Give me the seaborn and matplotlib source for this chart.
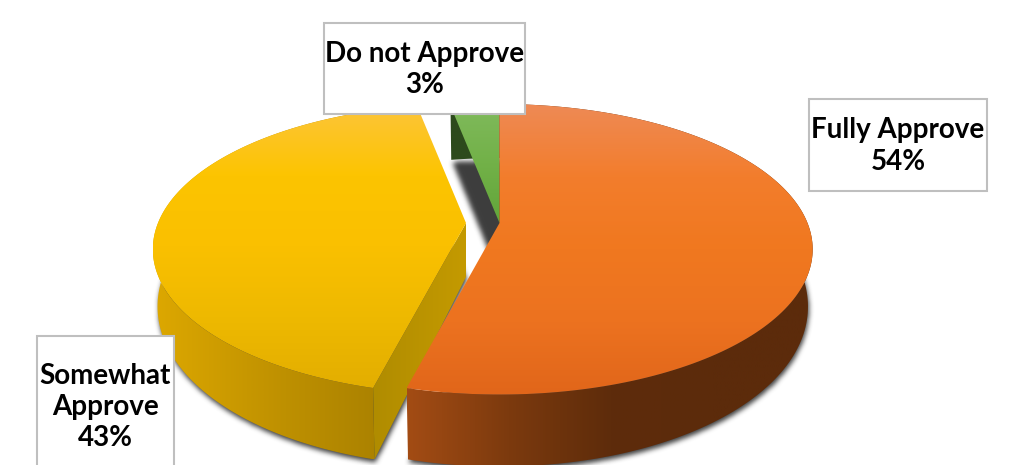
import numpy as np
import matplotlib
matplotlib.use("Agg")
import matplotlib.pyplot as plt
from matplotlib.patches import Polygon, Rectangle
from matplotlib.path import Path
import seaborn as sns

# Survey responses
categories = ["Fully Approve", "Somewhat Approve", "Do not Approve"]
label_lines = ["Fully Approve", "Somewhat\nApprove", "Do not Approve"]
shares = [54, 43, 3]

W, H = 1029, 465

# Perspective model of the pie disc, in pixels
APEX_X, APEX_Y = 499.5, 223.0
AXIS_X, AXIS_Y = 308.0, 140.5
TILT = 0.181
EXPLODE_X = [0.0, -33.5, 0.0]

top_ramps = [
    ["#EE8A55", "#F37D2C", "#F0781F", "#EC7220", "#E1661A"],
    ["#FDC53A", "#FCC400", "#FAC000", "#EEB900", "#E3AE00"],
    ["#80BA5C", "#72B148", "#62A53A"],
]
side_ramps = [
    ["#A34C14", "#7C3A0E", "#5E2C0B", "#5C2B0B", "#5C2B0B"],
    ["#DDA800", "#BE9000", "#A37C00"],
    ["#2D4A1C", "#2D4A1C"],
]
cut_ramps = [None, ["#B08C00", "#C49A00"], ["#2F4E1E", "#2B481B"]]

box_frames = [(809, 99, 178, 92), (37, 336, 137, 140), (324, 23, 201, 91)]
line_gap = [1.28, 1.22, 1.22]


def rim(theta, dx=0.0, lower=False):
    """Project angles (clockwise from the far side) on to the top or bottom rim."""
    theta = np.atleast_1d(theta)
    sx, cy = np.sin(theta), np.cos(theta)
    w = 1 + TILT * cy
    px = AXIS_X * sx / w
    py = AXIS_Y * cy / w
    if lower:
        return np.column_stack([APEX_X + dx + 0.985 * px,
                                APEX_Y - py + 54 - 18 * np.minimum(cy, 0)])
    return np.column_stack([APEX_X + dx + px, APEX_Y - py])


def apex(dx=0.0, lower=False):
    return np.array([[APEX_X + dx, APEX_Y + (54 if lower else 0)]])


def gradient_fill(ax, pts, colors, vertical, zorder):
    """Fill a polygon with a colour ramp spanning its bounding box."""
    cmap = sns.blend_palette(colors, n_colors=256, as_cmap=True)
    ramp = np.linspace(0, 1, 256)
    ramp = ramp[:, None] if vertical else ramp[None, :]
    x0, y0 = pts.min(axis=0)
    x1, y1 = pts.max(axis=0)
    im = ax.imshow(ramp, cmap=cmap, vmin=0, vmax=1, aspect="auto",
                   extent=(x0, x1, y1, y0), origin="upper",
                   interpolation="bilinear", zorder=zorder)
    clip = Polygon(pts, closed=True, transform=ax.transData, fc="none", ec="none")
    ax.add_patch(clip)
    im.set_clip_path(clip)


def soft_shadow(ax, polygons, zorder):
    """Blurred grey silhouette under the lower face of every slice."""
    xx, yy = np.meshgrid(np.arange(W) + 0.5, np.arange(H + 60) + 0.5)
    grid = np.column_stack([xx.ravel(), yy.ravel()])
    mask = np.zeros(grid.shape[0], dtype=bool)
    for pts in polygons:
        mask |= Path(pts + [1.0, 3.0]).contains_points(grid)
    mask = mask.reshape(xx.shape).astype(float)
    kernel = np.ones(5) / 5
    for _ in range(3):
        mask = np.apply_along_axis(np.convolve, 0, mask, kernel, mode="same")
        mask = np.apply_along_axis(np.convolve, 1, mask, kernel, mode="same")
    rgba = np.zeros(mask.shape + (4,))
    rgba[..., :3] = 0.24
    rgba[..., 3] = mask
    ax.imshow(rgba, extent=(0, W, H + 60, 0), aspect="auto", zorder=zorder)


sns.set_theme(style="white")
plt.rcParams["font.family"] = ["Lato", "DejaVu Sans"]

fig = plt.figure(figsize=(W / 100, H / 100), dpi=100, facecolor="white")
ax = fig.add_axes([0, 0, 1, 1])
ax.set_axis_off()

# Slice angles follow the shares, clockwise from twelve o'clock
edges = np.radians(np.cumsum([0] + shares) * 3.6)
arcs = [np.linspace(a, b, 160) for a, b in zip(edges[:-1], edges[1:])]

soft_shadow(ax, [np.vstack([apex(d, True), rim(t, d, True)])
                 for t, d in zip(arcs, EXPLODE_X)], zorder=1)

# Painted far to near: green, then yellow, then orange
for z, i in enumerate([2, 1, 0]):
    t, d = arcs[i], EXPLODE_X[i]
    base = 2 + 3 * z
    side = np.vstack([rim(t, d), rim(t[::-1], d, True)])
    gradient_fill(ax, side, side_ramps[i], False, base)
    if cut_ramps[i] is not None:
        # The exposed cut face runs along the edge nearest the viewer's side
        a = t[0] if i == 1 else t[-1]
        cut = np.vstack([rim(a, d), apex(d), apex(d, True), rim(a, d, True)])
        gradient_fill(ax, cut, cut_ramps[i], False, base + 1)
    face = np.vstack([apex(d), rim(t, d)])
    gradient_fill(ax, face, top_ramps[i], True, base + 2)

# Value callouts
for name, share, (x, y, w, h), gap in zip(label_lines, shares, box_frames, line_gap):
    ax.add_patch(Rectangle((x, y), w, h, fc="white", ec="#BFBFBF", lw=1.5, zorder=20))
    ax.text(x + w / 2, y + h / 2 + 1, f"{name}\n{share}%", ha="center", va="center",
            fontsize=20, fontweight="bold", color="black", linespacing=gap,
            clip_on=True, zorder=21)

ax.set_xlim(0, W)
ax.set_ylim(H, 0)
fig.savefig("out.png", dpi=100, facecolor="white")
